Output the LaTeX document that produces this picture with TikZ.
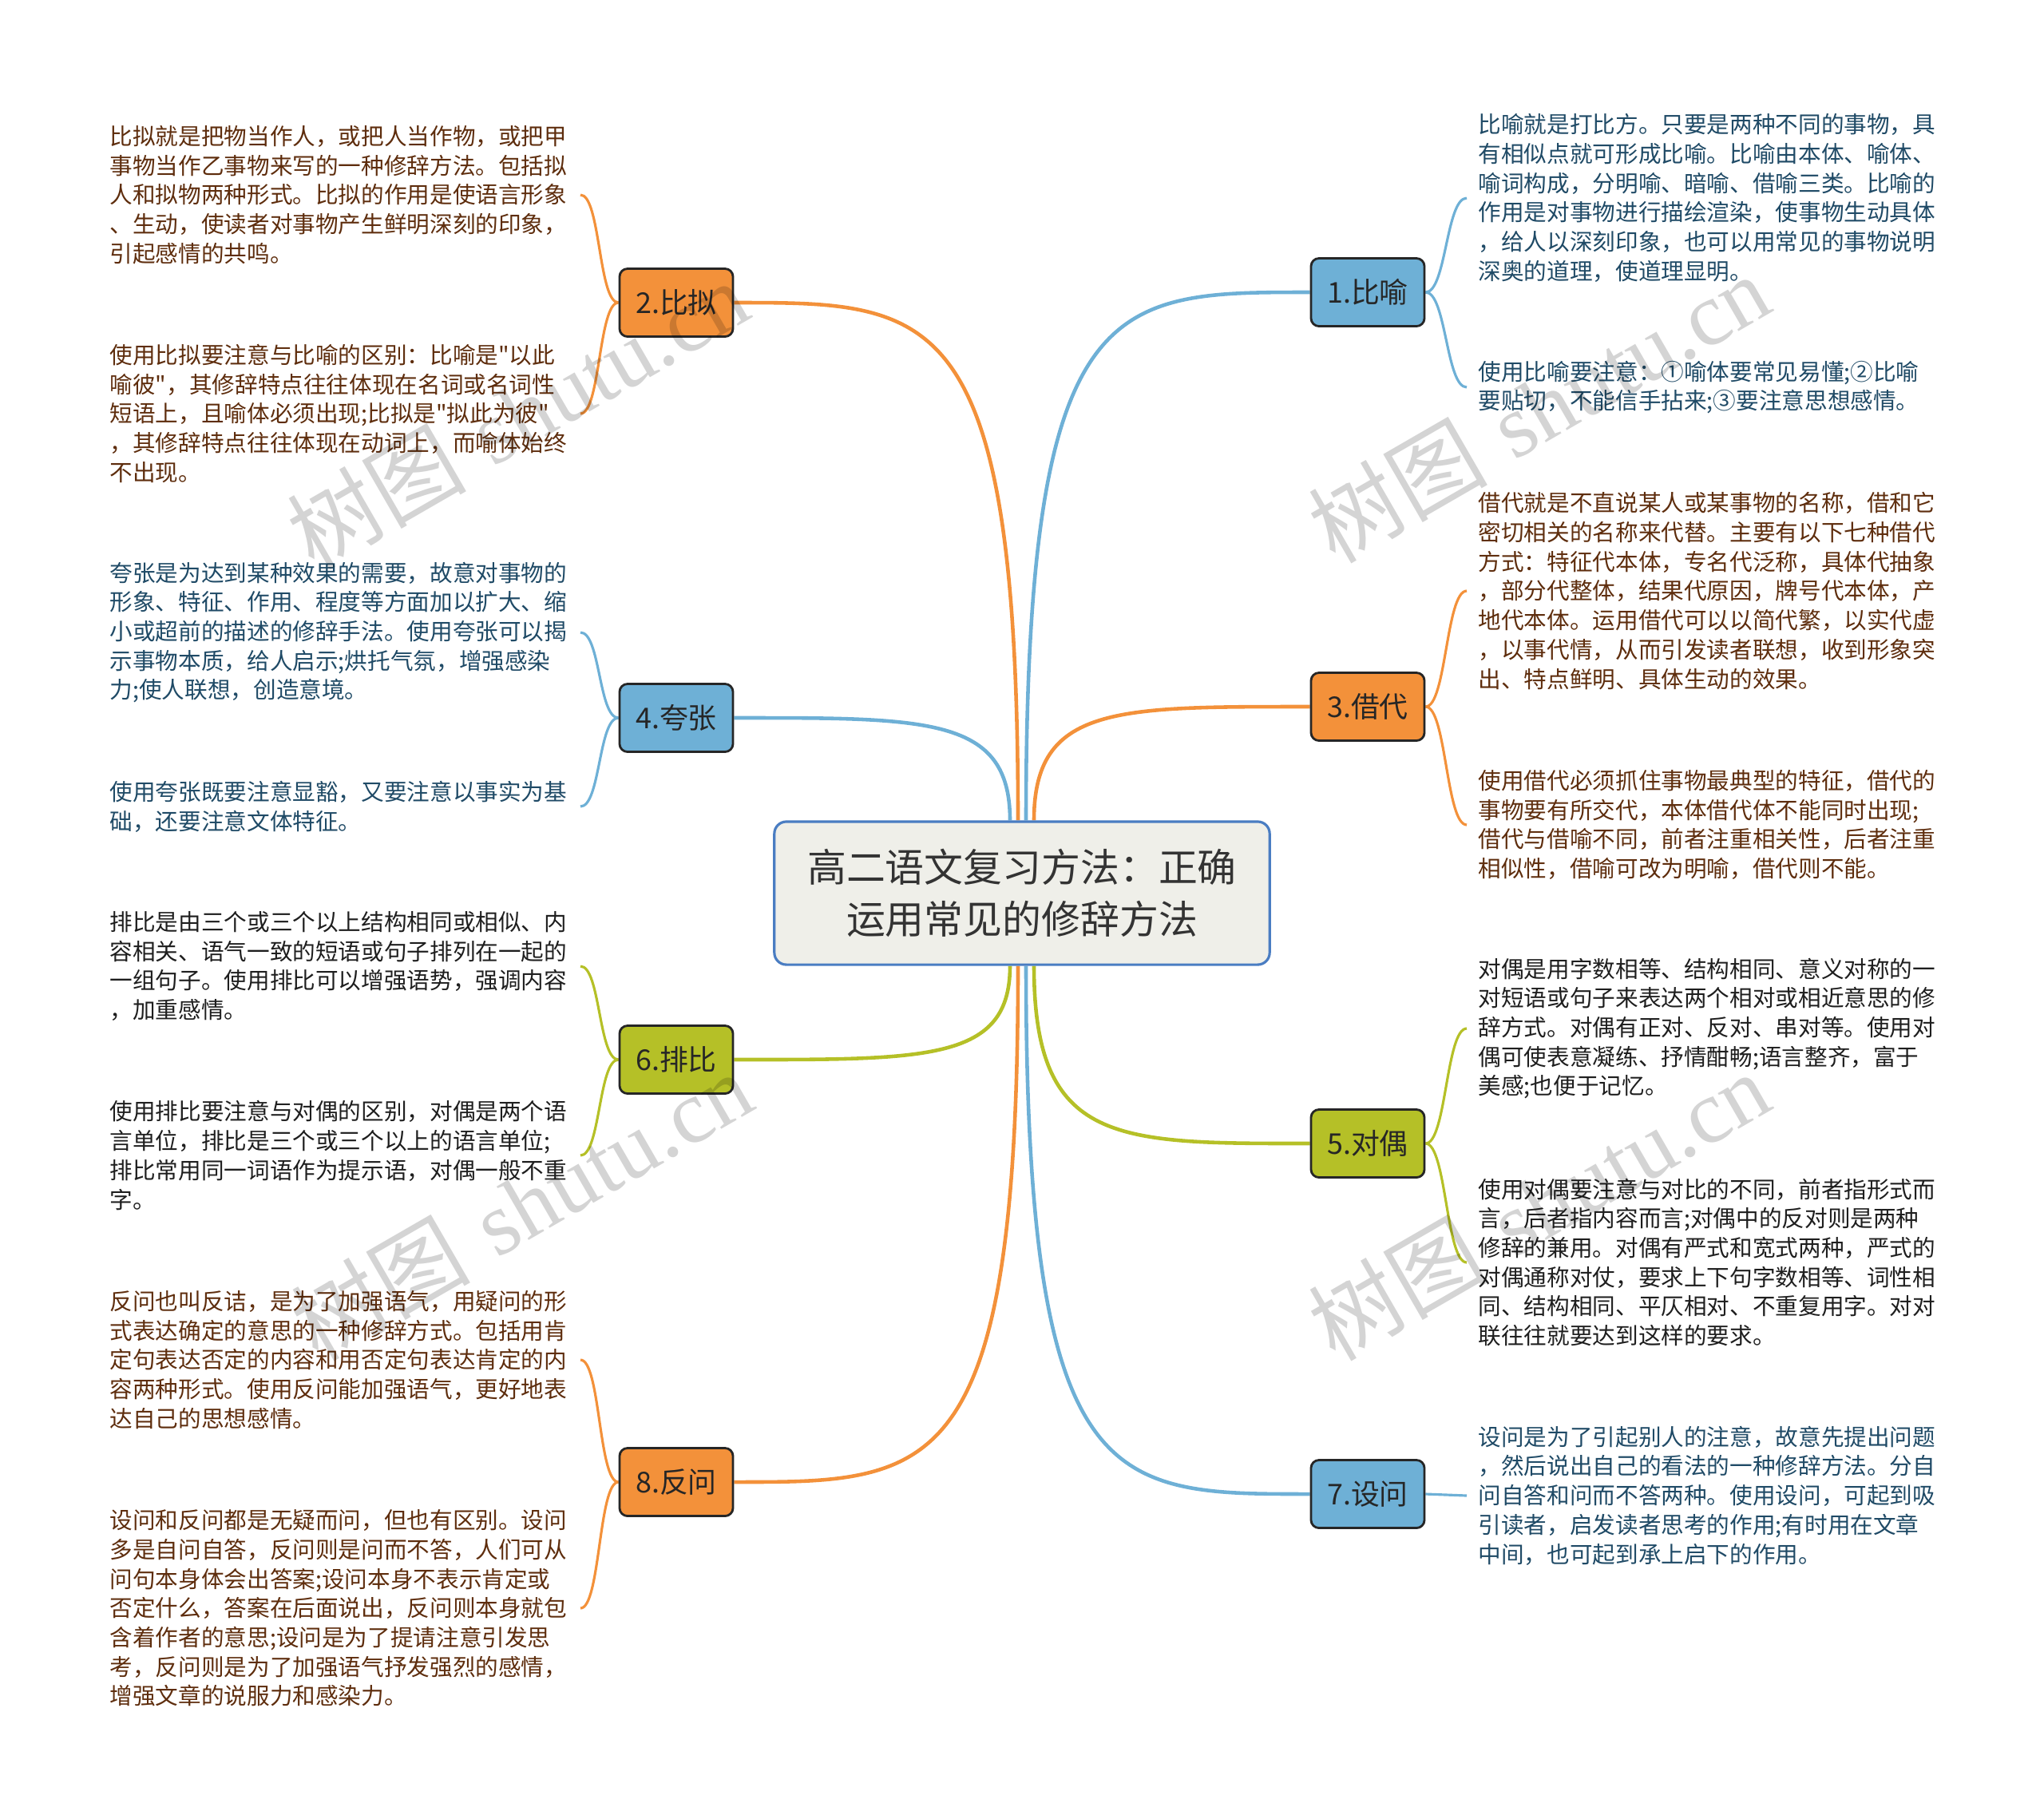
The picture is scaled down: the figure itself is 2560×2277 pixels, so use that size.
\documentclass[tikz,border=0pt]{standalone}
\usepackage{fontspec}
\newfontfamily\cjk{Noto Sans CJK SC}
\newfontfamily\wmserif{Liberation Serif}
\usetikzlibrary{backgrounds,calc}
\definecolor{cblue}{HTML}{6EB0D6}
\definecolor{corange}{HTML}{F3913A}
\definecolor{cgreen}{HTML}{B5C027}
\definecolor{tblue}{HTML}{1F4A66}
\definecolor{tbrown}{HTML}{5E2D0D}
\definecolor{tblack}{HTML}{1E1E1E}
\definecolor{cfill}{HTML}{EFEFE9}
\definecolor{cborder}{HTML}{4A7DC2}
\tikzset{
  centerbox/.style={draw=cborder, fill=cfill, line width=0.9pt, rounded corners=0.15cm,
    minimum width=6.2cm, minimum height=1.79cm, align=center, inner sep=0pt,
    font=\cjk\fontsize{13.9}{18.5}\selectfont, text=black!80},
  branch/.style={draw=black!85, line width=0.8pt, rounded corners=0.1cm,
    minimum width=1.42cm, minimum height=0.85cm, inner sep=0pt,
    font=\cjk\fontsize{10.2}{12}\selectfont, text=black!85},
  leaf/.style={anchor=west, align=left, inner sep=0pt,
    font=\cjk\fontsize{8.14}{10.44}\selectfont},
  mainline/.style={line width=1.3pt},
  leafline/.style={line width=0.9pt},
  wm/.style={rotate=30, inner sep=0pt, text=black, text opacity=0.17,
    font=\fontsize{32}{36}\selectfont}
}
\begin{document}
\begin{tikzpicture}[x=0.01cm, y=-0.01cm]
\useasboundingbox (0,0) rectangle (2560,2277);
% center
\node[centerbox] (c) at (1280,1118.5) {高二语文复习方法：正确\\运用常见的修辞方法};
% branches
\node[branch, fill=cblue]   (b1) at (1713,366)  {1.比喻};
\node[branch, fill=corange] (b2) at (847,379)   {2.比拟};
\node[branch, fill=corange] (b3) at (1713,885)  {3.借代};
\node[branch, fill=cblue]   (b4) at (847,899)   {4.夸张};
\node[branch, fill=cgreen]  (b5) at (1713,1432) {5.对偶};
\node[branch, fill=cgreen]  (b6) at (847,1327)  {6.排比};
\node[branch, fill=cblue]   (b7) at (1713,1871) {7.设问};
\node[branch, fill=corange] (b8) at (847,1856)  {8.反问};
% leaf texts
\node[leaf, text=tblue] (t1a) at (1851,248) {比喻就是打比方。只要是两种不同的事物，具\\有相似点就可形成比喻。比喻由本体、喻体、\\喻词构成，分明喻、暗喻、借喻三类。比喻的\\作用是对事物进行描绘渲染，使事物生动具体\\，给人以深刻印象，也可以用常见的事物说明\\深奥的道理，使道理显明。};
\node[leaf, text=tblue] (t1b) at (1851,485) {使用比喻要注意：①喻体要常见易懂;②比喻\\要贴切，不能信手拈来;③要注意思想感情。};
\node[leaf, text=tbrown] (t2a) at (137,244) {比拟就是把物当作人，或把人当作物，或把甲\\事物当作乙事物来写的一种修辞方法。包括拟\\人和拟物两种形式。比拟的作用是使语言形象\\、生动，使读者对事物产生鲜明深刻的印象，\\引起感情的共鸣。};
\node[leaf, text=tbrown] (t2b) at (137,518) {使用比拟要注意与比喻的区别：比喻是"以此\\喻彼"，其修辞特点往往体现在名词或名词性\\短语上，且喻体必须出现;比拟是"拟此为彼"\\，其修辞特点往往体现在动词上，而喻体始终\\不出现。};
\node[leaf, text=tbrown] (t3a) at (1851,740) {借代就是不直说某人或某事物的名称，借和它\\密切相关的名称来代替。主要有以下七种借代\\方式：特征代本体，专名代泛称，具体代抽象\\，部分代整体，结果代原因，牌号代本体，产\\地代本体。运用借代可以以简代繁，以实代虚\\，以事代情，从而引发读者联想，收到形象突\\出、特点鲜明、具体生动的效果。};
\node[leaf, text=tbrown] (t3b) at (1851,1033) {使用借代必须抓住事物最典型的特征，借代的\\事物要有所交代，本体借代体不能同时出现;\\借代与借喻不同，前者注重相关性，后者注重\\相似性，借喻可改为明喻，借代则不能。};
\node[leaf, text=tblue] (t4a) at (137,792) {夸张是为达到某种效果的需要，故意对事物的\\形象、特征、作用、程度等方面加以扩大、缩\\小或超前的描述的修辞手法。使用夸张可以揭\\示事物本质，给人启示;烘托气氛，增强感染\\力;使人联想，创造意境。};
\node[leaf, text=tblue] (t4b) at (137,1010) {使用夸张既要注意显豁，又要注意以事实为基\\础，还要注意文体特征。};
\node[leaf, text=tblack] (t5a) at (1851,1288) {对偶是用字数相等、结构相同、意义对称的一\\对短语或句子来表达两个相对或相近意思的修\\辞方式。对偶有正对、反对、串对等。使用对\\偶可使表意凝练、抒情酣畅;语言整齐，富于\\美感;也便于记忆。};
\node[leaf, text=tblack] (t5b) at (1851,1581) {使用对偶要注意与对比的不同，前者指形式而\\言，后者指内容而言;对偶中的反对则是两种\\修辞的兼用。对偶有严式和宽式两种，严式的\\对偶通称对仗，要求上下句字数相等、词性相\\同、结构相同、平仄相对、不重复用字。对对\\联往往就要达到这样的要求。};
\node[leaf, text=tblack] (t6a) at (137,1210) {排比是由三个或三个以上结构相同或相似、内\\容相关、语气一致的短语或句子排列在一起的\\一组句子。使用排比可以增强语势，强调内容\\，加重感情。};
\node[leaf, text=tblack] (t6b) at (137,1447) {使用排比要注意与对偶的区别，对偶是两个语\\言单位，排比是三个或三个以上的语言单位;\\排比常用同一词语作为提示语，对偶一般不重\\字。};
\node[leaf, text=tblue] (t7a) at (1851,1873) {设问是为了引起别人的注意，故意先提出问题\\，然后说出自己的看法的一种修辞方法。分自\\问自答和问而不答两种。使用设问，可起到吸\\引读者，启发读者思考的作用;有时用在文章\\中间，也可起到承上启下的作用。};
\node[leaf, text=tbrown] (t8a) at (137,1703) {反问也叫反诘，是为了加强语气，用疑问的形\\式表达确定的意思的一种修辞方式。包括用肯\\定句表达否定的内容和用否定句表达肯定的内\\容两种形式。使用反问能加强语气，更好地表\\达自己的思想感情。};
\node[leaf, text=tbrown] (t8b) at (137,2014) {设问和反问都是无疑而问，但也有区别。设问\\多是自问自答，反问则是问而不答，人们可从\\问句本身体会出答案;设问本身不表示肯定或\\否定什么，答案在后面说出，反问则本身就包\\含着作者的意思;设问是为了提请注意引发思\\考，反问则是为了加强语气抒发强烈的感情，\\增强文章的说服力和感染力。};
% leaf connector ends
\coordinate (e1a) at (1837,248);
\coordinate (e1b) at (1837,485);
\coordinate (e2a) at (727,244);
\coordinate (e2b) at (727,518);
\coordinate (e3a) at (1837,740);
\coordinate (e3b) at (1837,1033);
\coordinate (e4a) at (727,792);
\coordinate (e4b) at (727,1010);
\coordinate (e5a) at (1837,1288);
\coordinate (e5b) at (1837,1581);
\coordinate (e6a) at (727,1210);
\coordinate (e6b) at (727,1447);
\coordinate (e7a) at (1837,1873);
\coordinate (e8a) at (727,1703);
\coordinate (e8b) at (727,2014);
\begin{scope}[on background layer]
  % main connectors
  \draw[mainline, cblue]   ($(c.north)+(5,0)$)  .. controls +(0,-663) and +(-250,0) .. (b1.west);
  \draw[mainline, corange] ($(c.north)+(-5,0)$) .. controls +(0,-650) and +(250,0)  .. (b2.east);
  \draw[mainline, corange] ($(c.north)+(15,0)$) .. controls +(0,-144) and +(-243,0) .. (b3.west);
  \draw[mainline, cblue]   ($(c.north)+(-15,0)$) .. controls +(0,-130) and +(243,0) .. (b4.east);
  \draw[mainline, cgreen]  ($(c.south)+(15,0)$) .. controls +(0,224) and +(-243,0)  .. (b5.west);
  \draw[mainline, cgreen]  ($(c.south)+(-15,0)$) .. controls +(0,119) and +(243,0)  .. (b6.east);
  \draw[mainline, cblue]   ($(c.south)+(5,0)$)  .. controls +(0,663) and +(-250,0)  .. (b7.west);
  \draw[mainline, corange] ($(c.south)+(-5,0)$) .. controls +(0,648) and +(250,0)   .. (b8.east);
  % leaf connectors
  \draw[leafline, cblue]   (b1.east) .. controls +(26,0) and +(-26,0) .. (e1a);
  \draw[leafline, cblue]   (b1.east) .. controls +(26,0) and +(-26,0) .. (e1b);
  \draw[leafline, corange] (b2.west) .. controls +(-25,0) and +(25,0) .. (e2a);
  \draw[leafline, corange] (b2.west) .. controls +(-25,0) and +(25,0) .. (e2b);
  \draw[leafline, corange] (b3.east) .. controls +(26,0) and +(-26,0) .. (e3a);
  \draw[leafline, corange] (b3.east) .. controls +(26,0) and +(-26,0) .. (e3b);
  \draw[leafline, cblue]   (b4.west) .. controls +(-25,0) and +(25,0) .. (e4a);
  \draw[leafline, cblue]   (b4.west) .. controls +(-25,0) and +(25,0) .. (e4b);
  \draw[leafline, cgreen]  (b5.east) .. controls +(26,0) and +(-26,0) .. (e5a);
  \draw[leafline, cgreen]  (b5.east) .. controls +(26,0) and +(-26,0) .. (e5b);
  \draw[leafline, cgreen]  (b6.west) .. controls +(-25,0) and +(25,0) .. (e6a);
  \draw[leafline, cgreen]  (b6.west) .. controls +(-25,0) and +(25,0) .. (e6b);
  \draw[leafline, cblue]   (b7.east) -- (e7a);
  \draw[leafline, corange] (b8.west) .. controls +(-25,0) and +(25,0) .. (e8a);
  \draw[leafline, corange] (b8.west) .. controls +(-25,0) and +(25,0) .. (e8b);
\end{scope}
% watermarks
\node[wm] (w1) at (648,519)  {{\cjk 树图} {\wmserif shutu.cn}};
\node[wm] (w2) at (1927,511) {{\cjk 树图} {\wmserif shutu.cn}};
\node[wm] (w3) at (653,1510) {{\cjk 树图} {\wmserif shutu.cn}};
\node[wm] (w4) at (1927,1510) {{\cjk 树图} {\wmserif shutu.cn}};
\end{tikzpicture}
\end{document}
